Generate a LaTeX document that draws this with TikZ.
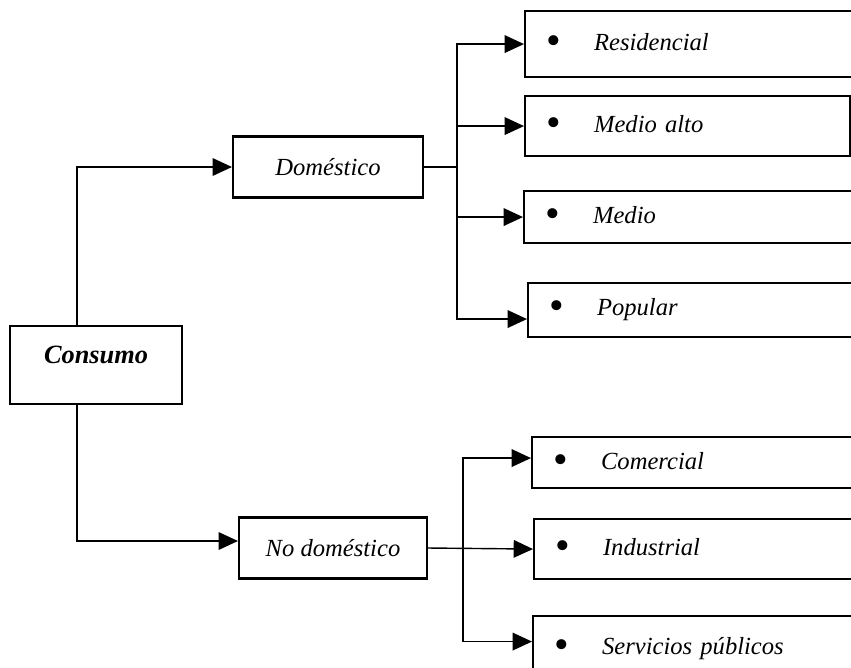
\documentclass[tikz,border=0pt]{standalone}
\usepackage{fontspec}
\setmainfont{Liberation Serif}
\usepackage{graphicx}
\usetikzlibrary{arrows.meta}

\tikzset{box/.style  = {draw, line width=1.2pt, inner sep=0pt, font=\fontsize{14}{16}\selectfont},
         leaf/.style = {box, anchor=north west, align=left, inner xsep=0.42cm},
         arr/.style  = {-{Triangle[length=11pt,width=10pt]}, line width=0.8pt},
         link/.style = {line width=0.8pt}}

\newcommand{\leafitem}[1]{\makebox[0.96cm][l]{\raisebox{-0.35ex}{\scalebox{1.7}{\textbullet}}}\textit{#1}}

\begin{document}
\begin{tikzpicture}[x=0.02cm, y=-0.02cm]

  \useasboundingbox (0,0) rectangle (851,667);
  \clip (0,0) rectangle (851,667);

%%% root and the two kinds of use

   \node[box, minimum width=3.44cm, minimum height=1.56cm] (cons) at (96,365) {};
   \node[font=\fontsize{15}{17}\selectfont] (consT) at (96,355) {\bfseries\itshape Consumo};

   \node[box, minimum width=3.8cm,  minimum height=1.22cm] (dom)   at (328,167) {\textit{Doméstico}};
   \node[box, minimum width=3.76cm, minimum height=1.22cm] (nodom) at (333,548) {\textit{No doméstico}};

%%% leaves (right side runs off the page)

   \node[leaf, minimum height=1.32cm, text width=7cm]    (res)   at (524,10)  {\leafitem{Residencial}};
   \node[leaf, minimum height=1.2cm,  text width=5.66cm] (malto) at (524,95)  {\leafitem{Medio alto}};
   \node[leaf, minimum height=1.04cm, text width=7cm]    (medio) at (523,190) {\leafitem{Medio}};
   \node[leaf, minimum height=1.08cm, text width=7cm]    (pop)   at (527,282) {\leafitem{Popular}};

   \node[leaf, minimum height=1.02cm, text width=7cm]    (com)   at (531,436) {\leafitem{Comercial}};
   \node[leaf, minimum height=1.2cm,  text width=7cm]    (ind)   at (533,518) {\leafitem{Industrial}};
   \node[leaf, minimum height=1.3cm,  text width=7cm]    (serv)  at (532,615) {\leafitem{Servicios públicos}};

   \coordinate (trunk) at (77,365);
   \coordinate (busT)  at (457,167);
   \coordinate (busB)  at (463,548);

%%% connectors

   \draw[arr] (trunk |- cons.north) |- (dom.west);
   \draw[arr] (trunk |- cons.south) |- ([yshift=0.14cm]nodom.west);

   \draw[link] (dom.east) -- (busT);
   \draw[arr] (busT) |- (res.west);
   \draw[arr] (busT) |- (malto.west);
   \draw[arr] (busT) |- (medio.west);
   \draw[arr] (busT) |- ([yshift=-0.18cm]pop.west);

   \draw[arr] (nodom.east) -- (ind.west);
   \draw[arr] (busB) |- ([yshift=0.09cm]com.west);
   \draw[arr] (busB) |- ([yshift=0.14cm]serv.west);

\end{tikzpicture}
\end{document}
